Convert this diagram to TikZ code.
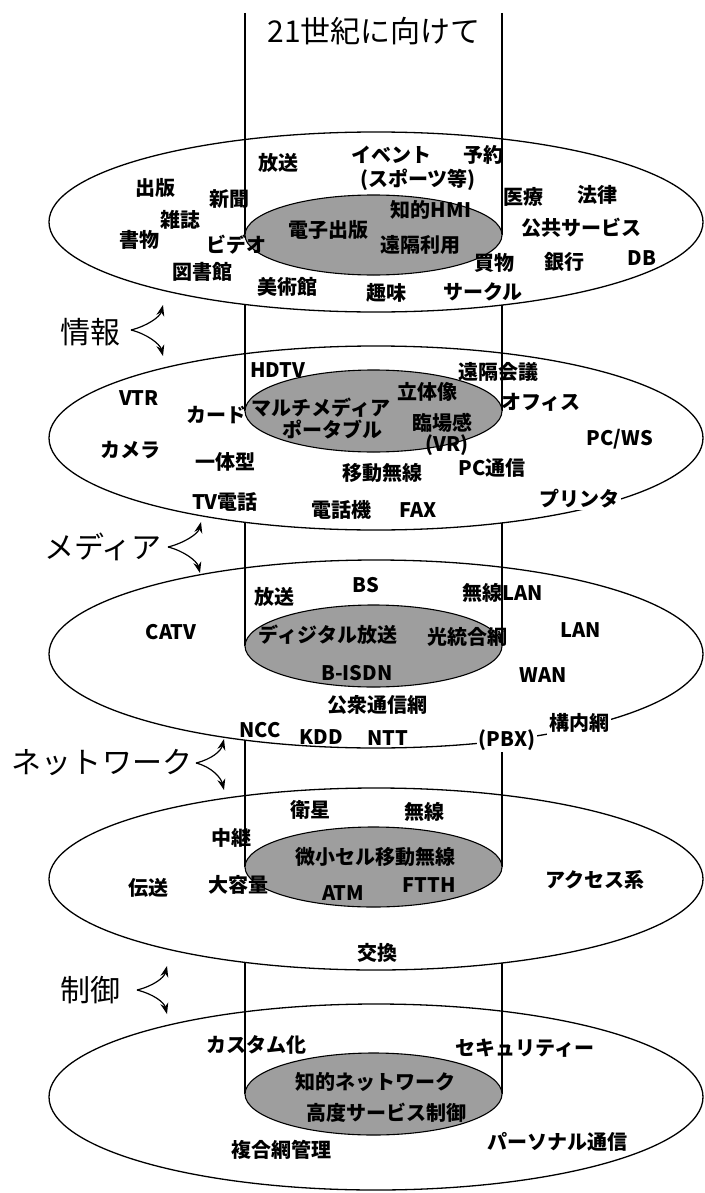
\documentclass[tikz,border=0pt]{standalone}
\usepackage{fontspec}
\setmainfont{Noto Sans CJK JP}
\usetikzlibrary{arrows.meta}
\begin{document}
\begin{tikzpicture}[x=1pt,y=-1pt,
  txt/.style={font=\fontsize{20}{22}\selectfont\bfseries, inner sep=0pt},
  big/.style={font=\fontsize{30}{32}\selectfont, inner sep=0pt},
  outer/.style={draw=black, line width=1.3pt},
  innerell/.style={draw=black, fill=black!38, line width=1.1pt},
  cyl/.style={draw=black, line width=1.1pt},
  arr/.style={-{Stealth[length=11pt,width=8pt]}, line width=1.2pt},
  onedge/.style={txt, fill=white, inner sep=2pt}]
\useasboundingbox (0,0) rectangle (704,1193);

% outer ellipses
\draw[outer] (376,222) ellipse [x radius=327pt, y radius=90pt];
\draw[outer] (376,438) ellipse [x radius=327pt, y radius=92pt];
\draw[outer] (376,654) ellipse [x radius=327pt, y radius=94pt];
\draw[outer] (376,879) ellipse [x radius=327pt, y radius=91pt];
\draw[outer] (376,1097) ellipse [x radius=327pt, y radius=93pt];

% cylinder lines
\draw[cyl] (245,13) -- (245,235);
\draw[cyl] (502,13) -- (502,235);
\draw[cyl] (245,304.5) -- (245,411);
\draw[cyl] (502,305) -- (502,411);
\draw[cyl] (245,522.3) -- (245,646);
\draw[cyl] (502,522.9) -- (502,646);
\draw[cyl] (245,740.1) -- (245,867);
\draw[cyl] (502,740.7) -- (502,867);
\draw[cyl] (245,962.4) -- (245,1094);
\draw[cyl] (502,963) -- (502,1094);

% inner shaded ellipses
\draw[innerell] (373.5,235) ellipse [x radius=128.5pt, y radius=40pt];
\draw[innerell] (373.5,411) ellipse [x radius=128.5pt, y radius=41pt];
\draw[innerell] (373.5,646) ellipse [x radius=128.5pt, y radius=41pt];
\draw[innerell] (373.5,867) ellipse [x radius=128.5pt, y radius=40pt];
\draw[innerell] (373.5,1094) ellipse [x radius=128.5pt, y radius=41pt];

% title
\node[big] (title) at (374,31) {21世紀に向けて};

% layer 1
\node[txt] (a1) at (278,163) {放送};
\node[txt] (a2) at (391,155) {イベント};
\node[txt] (a3) at (483,155) {予約};
\node[txt] (a4) at (418,180) {(スポーツ等)};
\node[txt] (a5) at (155,188) {出版};
\node[txt] (a6) at (229,199) {新聞};
\node[txt] (a7) at (180,220) {雑誌};
\node[txt] (a8) at (139,240) {書物};
\node[txt] (a9) at (236,245) {ビデオ};
\node[txt] (a10) at (202,272) {図書館};
\node[txt] (a11) at (287,287) {美術館};
\node[txt] (a12) at (386,293) {趣味};
\node[txt] (a13) at (483,292) {サークル};
\node[txt] (a14) at (328,230) {電子出版};
\node[txt] (a15) at (431,210) {知的HMI};
\node[txt] (a16) at (420,245) {遠隔利用};
\node[txt] (a17) at (523,197) {医療};
\node[txt] (a18) at (597,195) {法律};
\node[txt] (a19) at (581,228) {公共サービス};
\node[txt] (a20) at (494,263) {買物};
\node[txt] (a21) at (564,262) {銀行};
\node[txt] (a22) at (642,258) {DB};

% layer 2
\node[txt] (b1) at (278,370) {HDTV};
\node[txt] (b2) at (498,372) {遠隔会議};
\node[txt] (b3) at (139,398) {VTR};
\node[txt] (b4) at (427,392) {立体像};
\node[txt] (b5) at (541,402) {オフィス};
\node[txt] (b6) at (216,415) {カード};
\node[txt] (b7) at (321,408) {マルチメディア};
\node[txt] (b8) at (332,430) {ポータブル};
\node[txt] (b9) at (442,423) {臨場感};
\node[txt] (b10) at (447,445) {(VR)};
\node[txt] (b11) at (620,439) {PC/WS};
\node[txt] (b12) at (130,450) {カメラ};
\node[txt] (b13) at (225,462) {一体型};
\node[txt] (b14) at (382,473) {移動無線};
\node[txt] (b15) at (492,468) {PC通信};
\node[txt] (b16) at (225,502) {TV電話};
\node[txt] (b17) at (341,510) {電話機};
\node[txt] (b18) at (418,510) {FAX};
\node[onedge] (b19) at (579,499) {プリンタ};

% layer 3
\node[txt] (c1) at (274,597) {放送};
\node[txt] (c2) at (366,585) {BS};
\node[txt] (c3) at (503,593) {無線LAN};
\node[txt] (c4) at (171,632) {CATV};
\node[txt] (c5) at (328,635) {ディジタル放送};
\node[txt] (c6) at (467,637) {光統合網};
\node[txt] (c7) at (581,630) {LAN};
\node[txt] (c8) at (357,673) {B-ISDN};
\node[txt] (c9) at (543,675) {WAN};
\node[txt] (c10) at (377,705) {公衆通信網};
\node[onedge] (c11) at (579,723) {構内網};
\node[txt] (c12) at (260,730) {NCC};
\node[txt] (c13) at (321,737) {KDD};
\node[txt] (c14) at (388,738) {NTT};
\node[onedge] (c15) at (507,740) {(PBX)};

% layer 4
\node[txt] (d1) at (310,810) {衛星};
\node[txt] (d2) at (424,812) {無線};
\node[txt] (d3) at (231,838) {中継};
\node[txt] (d4) at (375,857) {微小セル移動無線};
\node[txt] (d5) at (148,888) {伝送};
\node[txt] (d6) at (238,885) {大容量};
\node[txt] (d7) at (343,893) {ATM};
\node[txt] (d8) at (429,885) {FTTH};
\node[txt] (d9) at (595,880) {アクセス系};
\node[txt] (d10) at (377,953) {交換};

% layer 5
\node[txt] (e1) at (256,1045) {カスタム化};
\node[txt] (e2) at (525,1048) {セキュリティー};
\node[txt] (e3) at (375,1082) {知的ネットワーク};
\node[txt] (e4) at (386,1113) {高度サービス制御};
\node[txt] (e5) at (281,1150) {複合網管理};
\node[txt] (e6) at (557,1142) {パーソナル通信};

% side labels with arrows
\node[big] (L1) at (90,332) {情報};
\coordinate (o1) at (131,330);
\coordinate (u1) at (163,305);
\coordinate (w1) at (163,356);
\draw[arr] (o1) .. controls +(16,-4) and +(-3,12) .. (u1);
\draw[arr] (o1) .. controls +(16,4) and +(-3,-12) .. (w1);

\node[big] (L2) at (103,547) {メディア};
\coordinate (o2) at (168,547);
\coordinate (u2) at (201,522);
\coordinate (w2) at (200,573);
\draw[arr] (o2) .. controls +(16,-4) and +(-3,12) .. (u2);
\draw[arr] (o2) .. controls +(16,4) and +(-3,-12) .. (w2);

\node[big] (L3) at (102,763) {ネットワーク};
\coordinate (o3) at (196,763);
\coordinate (u3) at (224,739);
\coordinate (w3) at (224,790);
\draw[arr] (o3) .. controls +(16,-4) and +(-3,12) .. (u3);
\draw[arr] (o3) .. controls +(16,4) and +(-3,-12) .. (w3);

\node[big] (L4) at (90,990) {制御};
\coordinate (o4) at (137,990);
\coordinate (u4) at (167,966);
\coordinate (w4) at (167,1014);
\draw[arr] (o4) .. controls +(16,-4) and +(-3,12) .. (u4);
\draw[arr] (o4) .. controls +(16,4) and +(-3,-12) .. (w4);
\end{tikzpicture}
\end{document}
